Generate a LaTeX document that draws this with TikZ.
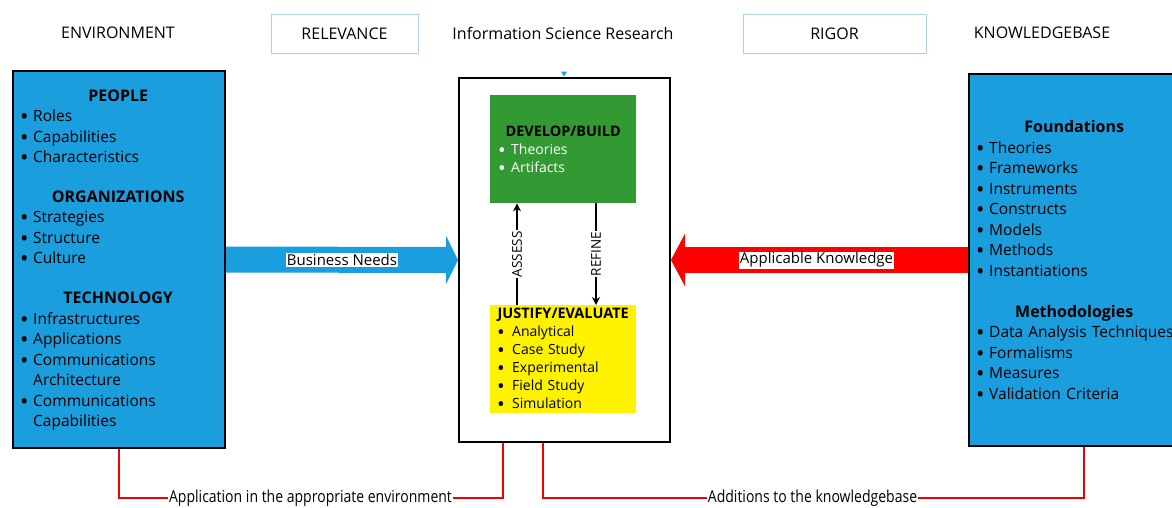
\documentclass[tikz,border=0pt]{standalone}
\usepackage{fontspec}
\usepackage{graphicx}
\setmainfont{Open Sans}
\usetikzlibrary{arrows.meta,calc}

\definecolor{panelblue}{RGB}{27,158,222}
\definecolor{buildgreen}{RGB}{51,153,51}
\definecolor{framecyan}{RGB}{170,212,228}
\definecolor{linkred}{RGB}{240,0,0}

% list helpers
\newcommand\dotmark{\raisebox{-3pt}{\scalebox{1.45}{\textbullet}}}
\newcommand\hd[1]{\makebox[\linewidth]{\fontsize{16}{20}\bfseries #1}}
\newcommand\bl[1]{\makebox[13pt][l]{\dotmark}\mbox{#1}}
\newcommand\blw[1]{\makebox[15pt][l]{\dotmark}\mbox{#1}}
\newcommand\cont[1]{\hspace*{13pt}#1}

\begin{document}
\begin{tikzpicture}[x=1pt,y=-1pt,
  toplabel/.style={font=\fontsize{16}{19}\selectfont, inner sep=0},
  framelabel/.style={draw=framecyan, line width=1pt, minimum width=#1, minimum height=39pt, font=\fontsize{16}{19}\selectfont},
  panel/.style={draw=black, line width=2pt, fill=panelblue, anchor=north west},
  listtext/.style={anchor=north west, inner sep=0, text width=#1, align=left, font=\fontsize{15.5}{20.5}\selectfont},
  smalllist/.style={anchor=north west, inner sep=0, text width=#1, align=left, font=\fontsize{14}{18}\selectfont},
  steplabel/.style={rotate=90, fill=white, inner sep=1pt, font=\fontsize{13.5}{15}\selectfont},
  flowtag/.style={fill=white, inner sep=1pt, font=\fontsize{15}{18}\selectfont},
  linktag/.style={inner sep=0.5pt, font=\fontsize{16.5}{18}\selectfont},
  redlink/.style={draw=linkred, line width=2.5pt}
]
\useasboundingbox (0,0) rectangle (1172,507);
\clip (0,0) rectangle (1172,507);

% column headings
\node[toplabel] (envh) at (118,33) {ENVIRONMENT};
\node[framelabel=147pt] (relh) at (344.5,33.5) {RELEVANCE};
\node[toplabel] (isrh) at (563,33) {Information Science Research};
\node[framelabel=183pt] (righ) at (834.5,33.5) {RIGOR};
\node[toplabel] (kbh) at (1042,33) {KNOWLEDGEBASE};

% environment panel
\node[panel, minimum width=212pt, minimum height=377pt] (env) at (12,70) {};
\node[listtext=196pt] (envtxt) at (20,89.5) {%
  \hd{PEOPLE}\\
  \bl{Roles}\\
  \bl{Capabilities}\\
  \bl{Characteristics}\\[19pt]
  \hd{ORGANIZATIONS}\\
  \bl{Strategies}\\
  \bl{Structure}\\
  \bl{Culture}\\[19.6pt]
  \hd{TECHNOLOGY}\\
  \bl{Infrastructures}\\
  \bl{Applications}\\
  \bl{Communications}\\
  \cont{Architecture}\\
  \bl{Communications}\\
  \cont{Capabilities}};

% knowledge base panel
\node[panel, minimum width=212pt, minimum height=372pt] (kb) at (968,73) {};
\node[listtext=196pt] (kbtxt) at (976,120.5) {%
  \hd{Foundations}\\
  \bl{Theories}\\
  \bl{Frameworks}\\
  \bl{Instruments}\\
  \bl{Constructs}\\
  \bl{Models}\\
  \bl{Methods}\\
  \bl{Instantiations}\\[20.4pt]
  \hd{Methodologies}\\
  \bl{Data Analysis Techniques}\\
  \bl{Formalisms}\\
  \bl{Measures}\\
  \bl{Validation Criteria}};

% research panel
\node[draw=black, line width=2pt, fill=white, anchor=north west, minimum width=211pt, minimum height=364pt] (isr) at (458,77) {};
\fill[panelblue] (561,71.5) -- (567,71.5) -- (564,76.5) -- cycle;

\node[fill=buildgreen, anchor=north west, minimum width=146pt, minimum height=108pt, inner sep=0] (dev) at (490,95) {};
\node[smalllist=130pt] (devtxt) at (498,125.5) {%
  \hd{\fontsize{14.5}{18}\selectfont DEVELOP/BUILD}\\
  \color{white}\bl{Theories}\\
  \color{white}\bl{Artifacts}};

\node[fill=yellow, anchor=north west, minimum width=146pt, minimum height=108pt, inner sep=0] (just) at (490,305) {};
\node[smalllist=132pt] (justtxt) at (497,307.5) {%
  \hd{\fontsize{14.5}{18}\selectfont JUSTIFY/EVALUATE}\\
  \blw{Analytical}\\
  \blw{Case Study}\\
  \blw{Experimental}\\
  \blw{Field Study}\\
  \blw{Simulation}};

% assess / refine loop
\coordinate (assessLo) at ($(just.north west)+(27,0)$);
\coordinate (assessHi) at ($(dev.south west)+(27,0)$);
\coordinate (refineHi) at ($(dev.south west)+(106,0)$);
\coordinate (refineLo) at ($(just.north west)+(106,0)$);
\draw[line width=2pt, -{Stealth[length=8pt,width=8pt]}] (assessLo) -- node[steplabel] (assess) {ASSESS} (assessHi);
\draw[line width=2pt, -{Stealth[length=8pt,width=8pt]}] (refineHi) -- node[steplabel] (refine) {REFINE} (refineLo);

% business needs and applicable knowledge
\draw[panelblue, line width=26pt, -{Triangle[length=12pt 0 0, width=48pt 0 0]}] (env.east) -- node[flowtag, text=black, pos=0.5] (bneeds) {Business Needs} (isr.west);
\draw[red, line width=26pt, -{Triangle[length=14pt 0 0, width=52pt 0 0]}] (kb.west) -- node[flowtag, text=black, pos=0.51] (aknow) {Applicable Knowledge} (isr.east);

% feedback to environment and knowledge base
\node[linktag] (apply) at (310.5,498) {\scalebox{0.85}[1]{Application in the appropriate environment}};
\node[linktag] (adds) at (812.5,498) {\scalebox{0.85}[1]{Additions to the knowledgebase}};
\coordinate (isrA) at ($(isr.south west)+(45,0)$);
\coordinate (isrB) at ($(isr.south west)+(85,0)$);
\coordinate (kbFoot) at ($(kb.south west)+(116,0)$);
\draw[redlink] (env.south) |- (apply.west);
\draw[redlink] (apply.east) -| (isrA);
\draw[redlink] (isrB) |- (adds.west);
\draw[redlink] (adds.east) -| (kbFoot);
\end{tikzpicture}
\end{document}
